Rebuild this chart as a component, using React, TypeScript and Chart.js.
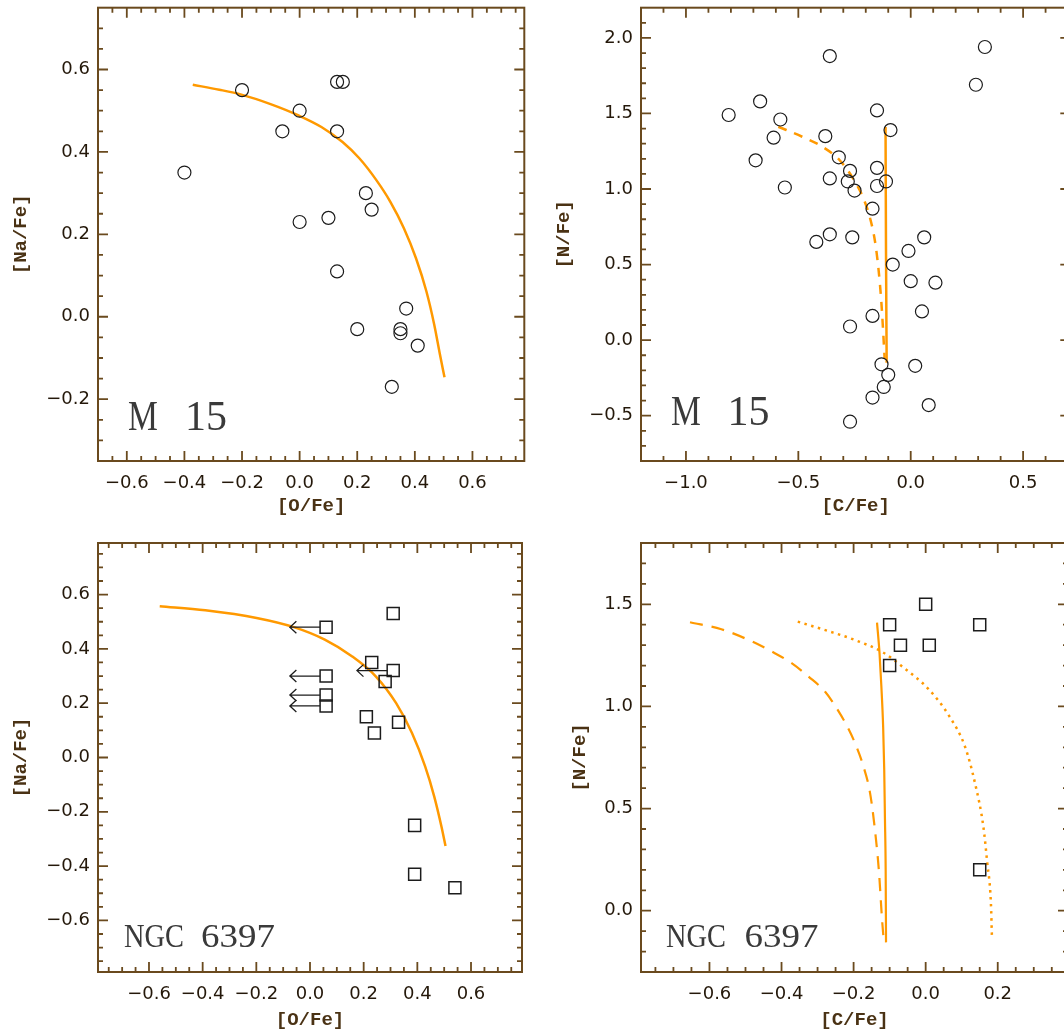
import React, { useEffect, useRef } from 'react';
import { Chart, registerables } from 'chart.js';

Chart.register(...registerables);

// ---------------- data ----------------
// M 15 : [Na/Fe] vs [O/Fe]
const m15OFe = [-0.40, -0.20, -0.06, 0.00, 0.00, 0.10, 0.13, 0.15, 0.13, 0.13, 0.23, 0.25, 0.20, 0.37, 0.35, 0.35, 0.41, 0.32];
const m15NaFe = [0.35, 0.55, 0.45, 0.50, 0.23, 0.24, 0.57, 0.57, 0.45, 0.11, 0.30, 0.26, -0.03, 0.02, -0.03, -0.04, -0.07, -0.17];
const m15ModelO = [-0.371, -0.279, -0.202, -0.101, -0.002, 0.077, 0.149, 0.208, 0.267, 0.315, 0.362, 0.404, 0.44, 0.467, 0.487, 0.503];
const m15ModelNa = [0.563, 0.551, 0.539, 0.516, 0.488, 0.46, 0.424, 0.384, 0.331, 0.279, 0.215, 0.142, 0.062, -0.018, -0.091, -0.147];

// M 15 : [N/Fe] vs [C/Fe]
const m15CFe = [-0.81, -0.67, -0.58, -0.61, -0.69, -0.56, -0.36, -0.38, -0.32, -0.36, -0.27, -0.28, -0.25, -0.42, -0.36, -0.26, -0.15, -0.09, -0.15, -0.15, -0.11, -0.17, -0.08, -0.01, 0.06, 0.00, 0.11, 0.05, -0.17, -0.27, -0.13, -0.10, -0.12, -0.17, 0.02, 0.08, -0.27, 0.29, 0.33];
const m15NFe = [1.49, 1.58, 1.46, 1.34, 1.19, 1.01, 1.88, 1.35, 1.21, 1.07, 1.12, 1.05, 0.99, 0.65, 0.70, 0.68, 1.52, 1.39, 1.14, 1.02, 1.05, 0.87, 0.50, 0.59, 0.68, 0.39, 0.38, 0.19, 0.16, 0.09, -0.16, -0.23, -0.31, -0.38, -0.17, -0.43, -0.54, 1.69, 1.94];
const m15SolidC = [-0.112, -0.11, -0.107];
const m15SolidN = [1.41, 0.6, -0.15];
const m15DashC = [-0.589, -0.483, -0.393, -0.317, -0.257, -0.211, -0.181, -0.159, -0.144, -0.131, -0.122, -0.116];
const m15DashN = [1.412, 1.346, 1.28, 1.192, 1.071, 0.94, 0.808, 0.654, 0.479, 0.259, 0.04, -0.125];

// NGC 6397 : [Na/Fe] vs [O/Fe]
const n6397OFe = [0.31, 0.23, 0.28, 0.21, 0.24, 0.33, 0.39, 0.39, 0.54];
const n6397NaFe = [0.53, 0.35, 0.28, 0.15, 0.09, 0.13, -0.25, -0.43, -0.48];
const n6397LimOFe = [0.06, 0.06, 0.06, 0.06, 0.31];
const n6397LimNaFe = [0.48, 0.30, 0.23, 0.19, 0.32];
const n6397ModelO = [-0.56, -0.39, -0.199, -0.06, 0.055, 0.156, 0.245, 0.321, 0.38, 0.429, 0.463, 0.49, 0.505];
const n6397ModelNa = [0.557, 0.542, 0.514, 0.48, 0.434, 0.373, 0.299, 0.2, 0.09, -0.033, -0.144, -0.255, -0.326];
const upperLimitLength = 0.135;

// NGC 6397 : [N/Fe] vs [C/Fe]
const n6397CFe = [-0.10, 0.00, -0.07, 0.01, -0.10, 0.15, 0.15];
const n6397NFe = [1.40, 1.50, 1.30, 1.30, 1.20, 1.40, 0.20];
const n6397SolidC = [-0.135, -0.128, -0.123, -0.118, -0.115, -0.113, -0.111, -0.110];
const n6397SolidN = [1.41, 1.26, 1.10, 0.90, 0.69, 0.45, 0.20, -0.155];
const n6397DashC = [-0.654, -0.567, -0.471, -0.421, -0.371, -0.325, -0.279, -0.247, -0.215, -0.192, -0.174, -0.155, -0.144, -0.13, -0.121, -0.116];
const n6397DashN = [1.412, 1.378, 1.309, 1.263, 1.211, 1.146, 1.072, 0.991, 0.893, 0.803, 0.714, 0.583, 0.445, 0.2, -0.044, -0.155];
const n6397DotC = [-0.355, -0.274, -0.196, -0.119, -0.065, 0.01, 0.066, 0.109, 0.137, 0.16, 0.171, 0.181, 0.184];
const n6397DotN = [1.415, 1.371, 1.325, 1.265, 1.195, 1.081, 0.951, 0.804, 0.624, 0.413, 0.233, 0.038, -0.134];

// tick labels
const ticksO_M15 = [-0.6, -0.4, -0.2, 0.0, 0.2, 0.4, 0.6];
const ticksNa_M15 = [-0.2, 0.0, 0.2, 0.4, 0.6];
const ticksC_M15 = [-1.0, -0.5, 0.0, 0.5];
const ticksN_M15 = [-0.5, 0.0, 0.5, 1.0, 1.5, 2.0];
const ticksO_N6397 = [-0.6, -0.4, -0.2, 0.0, 0.2, 0.4, 0.6];
const ticksNa_N6397 = [-0.6, -0.4, -0.2, 0.0, 0.2, 0.4, 0.6];
const ticksC_N6397 = [-0.6, -0.4, -0.2, 0.0, 0.2];
const ticksN_N6397 = [0.0, 0.5, 1.0, 1.5];

// ---------------- styles ----------------
const AXIS = '#6a4a1e';
const LABEL = '#24180a';
const TITLE = '#4a3214';
const ORANGE = '#ff9900';
const MARK = '#1c1c1c';
const NAME = '#3a3a3a';

const pts = (xs: number[], ys: number[]) => xs.map((x, i) => ({ x, y: ys[i] }));

function fmt(v: number) {
  const r = Math.round(v * 10) / 10;
  if (Math.abs(r) < 1e-9) return '0.0';
  return r < 0 ? '\u2212' + Math.abs(r).toFixed(1) : r.toFixed(1);
}

type Part = { t: string; dx: number; sx: number };
type Spec = {
  left: number; top: number; w: number; h: number;
  area: { l: number; t: number; r: number; b: number };
  xMin: number; xMax: number; yMin: number; yMax: number;
  xTicks: number[]; yTicks: number[]; xMinor: number; yMinor: number;
  xMajorStep: number; yMajorStep: number;
  xTitle: string; yTitle: string; yTitlePad: number; xTitlePad: number;
  datasets: any[];
  limits?: { x: number[]; y: number[] };
  name: { parts: Part[]; fromBottom: number; size: number };
};

const circles = (xs: number[], ys: number[]) => ({
  data: pts(xs, ys), showLine: false, pointStyle: 'circle', pointRadius: 6.5,
  borderColor: MARK, borderWidth: 1.2, backgroundColor: 'rgba(0,0,0,0)',
});
const squares = (xs: number[], ys: number[]) => ({
  data: pts(xs, ys), showLine: false, pointStyle: 'rect', pointRadius: 8.5,
  borderColor: MARK, borderWidth: 1.5, backgroundColor: 'rgba(0,0,0,0)',
});
const curve = (xs: number[], ys: number[], dash: number[], width = 2.5) => ({
  data: pts(xs, ys), showLine: true, pointRadius: 0, borderColor: ORANGE,
  borderWidth: width, borderDash: dash, cubicInterpolationMode: 'monotone', fill: false,
});

const specs: Spec[] = [
  {
    left: 0, top: 0, w: 532, h: 520, area: { l: 98, t: 5, r: 527, b: 461 },
    xMin: -0.7, xMax: 0.78, yMin: -0.35, yMax: 0.75,
    xTicks: ticksO_M15, yTicks: ticksNa_M15, xMinor: 0.05, yMinor: 0.05, xMajorStep: 0.2, yMajorStep: 0.2,
    xTitle: '[O/Fe]', yTitle: '[Na/Fe]', yTitlePad: 10, xTitlePad: 2,
    datasets: [circles(m15OFe, m15NaFe), curve(m15ModelO, m15ModelNa, [])],
    name: { parts: [{ t: 'M', dx: 30, sx: 0.8 }, { t: '15', dx: 87, sx: 1 }], fromBottom: 31, size: 42 },
  },
  {
    left: 532, top: 0, w: 546, h: 520, area: { l: 109, t: 5, r: 540, b: 461 },
    xMin: -1.2, xMax: 0.71, yMin: -0.8, yMax: 2.2,
    xTicks: ticksC_M15, yTicks: ticksN_M15, xMinor: 0.1, yMinor: 0.1, xMajorStep: 0.5, yMajorStep: 0.5,
    xTitle: '[C/Fe]', yTitle: '[N/Fe]', yTitlePad: 20.6, xTitlePad: 2,
    datasets: [circles(m15CFe, m15NFe), curve(m15SolidC, m15SolidN, []), curve(m15DashC, m15DashN, [9, 8])],
    name: { parts: [{ t: 'M', dx: 30, sx: 0.8 }, { t: '15', dx: 86.5, sx: 1 }], fromBottom: 36, size: 42 },
  },
  {
    left: 0, top: 520, w: 532, h: 514, area: { l: 98, t: 23, r: 527, b: 452 },
    xMin: -0.79, xMax: 0.79, yMin: -0.79, yMax: 0.79,
    xTicks: ticksO_N6397, yTicks: ticksNa_N6397, xMinor: 0.05, yMinor: 0.05, xMajorStep: 0.2, yMajorStep: 0.2,
    xTitle: '[O/Fe]', yTitle: '[Na/Fe]', yTitlePad: 10, xTitlePad: 2.6,
    datasets: [squares(n6397OFe, n6397NaFe), squares(n6397LimOFe, n6397LimNaFe), curve(n6397ModelO, n6397ModelNa, [])],
    limits: { x: n6397LimOFe, y: n6397LimNaFe },
    name: { parts: [{ t: 'NGC', dx: 26, sx: 0.86 }, { t: '6397', dx: 103, sx: 1.12 }], fromBottom: 25, size: 33 },
  },
  {
    left: 532, top: 520, w: 546, h: 514, area: { l: 109, t: 23, r: 540, b: 452 },
    xMin: -0.79, xMax: 0.395, yMin: -0.3, yMax: 1.8,
    xTicks: ticksC_N6397, yTicks: ticksN_N6397, xMinor: 0.05, yMinor: 0.1, xMajorStep: 0.2, yMajorStep: 0.5,
    xTitle: '[C/Fe]', yTitle: '[N/Fe]', yTitlePad: 36.6, xTitlePad: 2.6,
    datasets: [
      squares(n6397CFe, n6397NFe),
      curve(n6397SolidC, n6397SolidN, [], 2.2),
      curve(n6397DashC, n6397DashN, [13, 9], 2.2),
      curve(n6397DotC, n6397DotN, [2.5, 4.5], 2.5),
    ],
    name: { parts: [{ t: 'NGC', dx: 25, sx: 0.86 }, { t: '6397', dx: 103.6, sx: 1.12 }], fromBottom: 25, size: 33 },
  },
];

function makePlugin(spec: Spec) {
  return {
    id: 'idlFrame',
    afterDraw(chart: any) {
      const { ctx, chartArea: a } = chart;
      const xs = chart.scales.x;
      const ys = chart.scales.y;
      ctx.save();

      // upper-limit arrows
      if (spec.limits) {
        ctx.strokeStyle = MARK;
        ctx.lineWidth = 1.3;
        spec.limits.x.forEach((xv, i) => {
          const py = ys.getPixelForValue(spec.limits!.y[i]);
          const p0 = xs.getPixelForValue(xv) - 6;
          const p1 = xs.getPixelForValue(xv - upperLimitLength);
          ctx.beginPath();
          ctx.moveTo(p0, py);
          ctx.lineTo(p1, py);
          ctx.moveTo(p1 + 6.5, py - 6);
          ctx.lineTo(p1, py);
          ctx.lineTo(p1 + 6.5, py + 6);
          ctx.stroke();
        });
      }

      // frame
      ctx.strokeStyle = AXIS;
      ctx.lineWidth = 2;
      ctx.strokeRect(a.left, a.top, a.right - a.left, a.bottom - a.top);

      // ticks (inward, all four sides)
      ctx.lineWidth = 1.8;
      const isMajor = (v: number, step: number) => Math.abs(v / step - Math.round(v / step)) < 1e-6;
      ctx.beginPath();
      for (let k = Math.ceil(spec.xMin / spec.xMinor - 1e-9); k * spec.xMinor <= spec.xMax + 1e-9; k++) {
        const v = k * spec.xMinor;
        const px = xs.getPixelForValue(v);
        if (px <= a.left + 1 || px >= a.right - 1) continue;
        const len = isMajor(v, spec.xMajorStep) ? 10 : 5;
        ctx.moveTo(px, a.bottom); ctx.lineTo(px, a.bottom - len);
        ctx.moveTo(px, a.top); ctx.lineTo(px, a.top + len);
      }
      for (let k = Math.ceil(spec.yMin / spec.yMinor - 1e-9); k * spec.yMinor <= spec.yMax + 1e-9; k++) {
        const v = k * spec.yMinor;
        const py = ys.getPixelForValue(v);
        if (py <= a.top + 1 || py >= a.bottom - 1) continue;
        const len = isMajor(v, spec.yMajorStep) ? 10 : 5;
        ctx.moveTo(a.left, py); ctx.lineTo(a.left + len, py);
        ctx.moveTo(a.right, py); ctx.lineTo(a.right - len, py);
      }
      ctx.stroke();

      // cluster name
      ctx.fillStyle = NAME;
      ctx.font = `${spec.name.size}px "Liberation Serif"`;
      ctx.textBaseline = 'alphabetic';
      ctx.textAlign = 'left';
      spec.name.parts.forEach((p) => {
        ctx.save();
        ctx.translate(a.left + p.dx, a.bottom - spec.name.fromBottom);
        ctx.scale(p.sx, 1);
        ctx.fillText(p.t, 0, 0);
        ctx.restore();
      });

      ctx.restore();
    },
  };
}

const TICKFONT = { family: 'DejaVu Sans', size: 18 };
const TITLEFONT = { family: 'Liberation Mono', size: 19, weight: 'bold' };

function buildConfig(spec: Spec): any {
  return {
    type: 'scatter',
    data: { datasets: spec.datasets },
    options: {
      animation: false,
      responsive: false,
      events: [],
      layout: { padding: { left: 0, top: spec.area.t, right: spec.w - spec.area.r, bottom: 0 } },
      plugins: { legend: { display: false }, tooltip: { enabled: false } },
      scales: {
        x: {
          type: 'linear', min: spec.xMin, max: spec.xMax,
          grid: { display: false, drawTicks: false }, border: { display: false },
          afterBuildTicks: (s: any) => { s.ticks = spec.xTicks.map((v) => ({ value: v })); },
          afterFit: (s: any) => {
            s.height = spec.h - spec.area.b;
            s.paddingLeft = 0; s.paddingRight = 0; s.paddingTop = 0; s.paddingBottom = 0;
          },
          ticks: { callback: (v: number) => fmt(v), color: LABEL, font: TICKFONT, padding: 12, autoSkip: false, maxRotation: 0, minRotation: 0 },
          title: { display: true, text: spec.xTitle, color: TITLE, font: TITLEFONT, padding: { top: 0, bottom: spec.xTitlePad } },
        },
        y: {
          type: 'linear', min: spec.yMin, max: spec.yMax,
          grid: { display: false, drawTicks: false }, border: { display: false },
          afterBuildTicks: (s: any) => { s.ticks = spec.yTicks.map((v) => ({ value: v })); },
          afterFit: (s: any) => {
            s.width = spec.area.l;
            s.paddingLeft = 0; s.paddingRight = 0; s.paddingTop = 0; s.paddingBottom = 0;
          },
          ticks: { callback: (v: number) => fmt(v), color: LABEL, font: TICKFONT, padding: 8, autoSkip: false },
          title: { display: true, text: spec.yTitle, color: TITLE, font: TITLEFONT, padding: { top: spec.yTitlePad, bottom: 0 } },
        },
      },
    },
    plugins: [makePlugin(spec)],
  };
}

function Panel({ spec }: { spec: Spec }) {
  const ref = useRef<HTMLCanvasElement>(null);
  useEffect(() => {
    if (!ref.current) return;
    const chart = new Chart(ref.current, buildConfig(spec));
    return () => chart.destroy();
  }, [spec]);
  return (
    <div style={{ position: 'absolute', left: spec.left, top: spec.top, width: spec.w, height: spec.h }}>
      <canvas ref={ref} width={spec.w} height={spec.h} style={{ width: spec.w, height: spec.h, display: 'block' }} />
    </div>
  );
}

export default function App() {
  return (
    <div style={{ position: 'fixed', left: 0, top: 0, width: 1064, height: 1034, overflow: 'hidden', background: '#ffffff' }}>
      {specs.map((s, i) => (
        <Panel key={i} spec={s} />
      ))}
    </div>
  );
}
